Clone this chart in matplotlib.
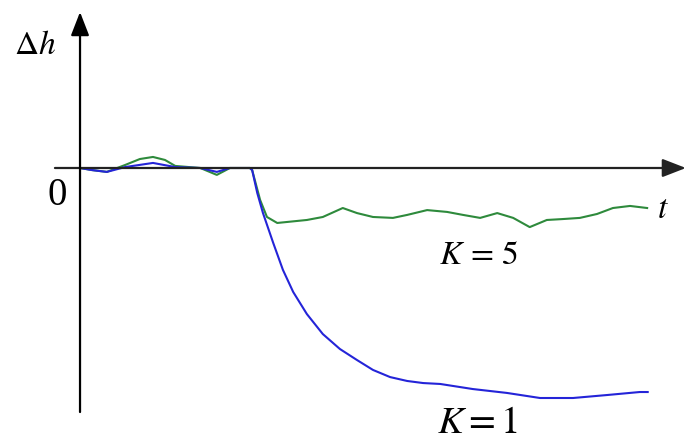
import matplotlib.pyplot as plt

plt.rcParams['mathtext.fontset'] = 'stix'
plt.rcParams['font.family'] = 'Liberation Serif'

# step response of level change
t_k1 = [0, 0.21, 0.47, 0.79, 1.28, 1.67, 2.11, 2.40, 2.63, 2.98, 3.02, 3.11,
        3.21, 3.39, 3.56, 3.74, 3.98, 4.26, 4.56, 4.86, 5.14, 5.44, 5.74,
        6.02, 6.32, 6.89, 7.49, 8.07, 8.65, 9.25, 9.82, 9.96]
dh_k1 = [0, -0.09, -0.17, 0.04, 0.22, 0.04, 0, -0.17, 0, 0, -0.09, -1.09,
         -1.96, -3.26, -4.43, -5.39, -6.35, -7.22, -7.87, -8.35, -8.78, -9.09,
         -9.26, -9.35, -9.39, -9.61, -9.78, -10.0, -10.0, -9.87, -9.74, -9.74]

t_k5 = [0, 0.21, 0.47, 0.79, 1.05, 1.28, 1.49, 1.67, 2.11, 2.40, 2.63, 2.98,
        3.02, 3.16, 3.28, 3.46, 3.98, 4.26, 4.61, 4.86, 5.14, 5.49, 5.74,
        6.09, 6.44, 6.72, 7.02, 7.32, 7.60, 7.89, 8.19, 8.47, 8.77, 9.07,
        9.35, 9.65, 9.95]
dh_k5 = [0, -0.09, -0.17, 0.13, 0.39, 0.48, 0.35, 0.09, 0, -0.30, 0, 0,
         -0.09, -1.39, -2.13, -2.39, -2.26, -2.13, -1.74, -1.96, -2.13, -2.17,
         -2.04, -1.83, -1.91, -2.04, -2.17, -1.96, -2.17, -2.57, -2.26, -2.22,
         -2.17, -2.0, -1.74, -1.65, -1.74]

fig = plt.figure(figsize=(6.86, 4.42), dpi=100)
ax = fig.add_axes([0, 0, 1, 1])
ax.set_xlim(-1.404, 10.632)
ax.set_ylim(-11.913, 7.304)
ax.axis('off')

# axes with arrows
arrow = '-|>,head_length=0.72,head_width=0.28'
ax.annotate('', xy=(10.63, 0), xytext=(-0.44, 0),
            arrowprops=dict(arrowstyle=arrow, color='#222222', lw=1.6,
                            mutation_scale=20, shrinkA=0, shrinkB=0))
ax.annotate('', xy=(0, 6.78), xytext=(0, -10.61),
            arrowprops=dict(arrowstyle=arrow, color='black', lw=1.6,
                            mutation_scale=20, shrinkA=0, shrinkB=0))

ax.plot(t_k5, dh_k5, color='#2e8a3c', lw=1.5, solid_joinstyle='round')
ax.plot(t_k1, dh_k1, color='#2424d8', lw=1.5, solid_joinstyle='round')

ax.text(-0.79, 5.3, r'$\Delta h$', fontsize=24, ha='center', va='center')
ax.text(-0.4, -1.2, '0', fontsize=28, ha='center', va='center')
ax.text(10.22, -1.8, r'$t$', fontsize=24, ha='center', va='center')
ax.text(7.0, -3.83, r'$K\,=\,5$', fontsize=24, ha='center', va='center')
ax.text(6.98, -11.1, r'$K=1$', fontsize=28, ha='center', va='center')

fig.savefig('out.png', dpi=100)
